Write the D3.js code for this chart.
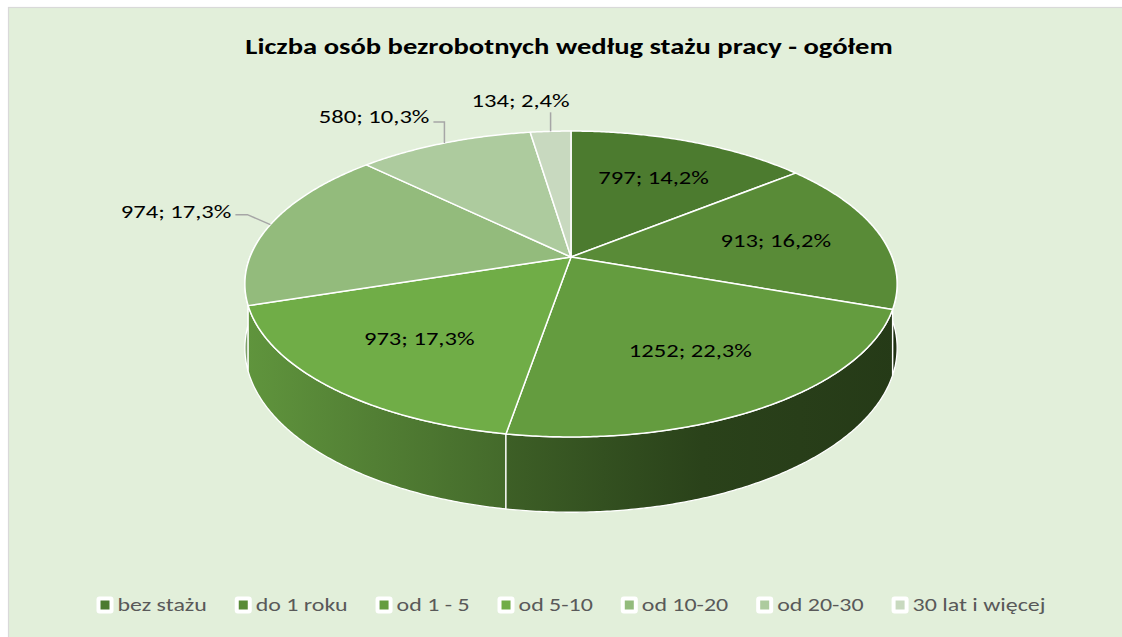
<!DOCTYPE html>
<html>
<head>
<meta charset="utf-8">
<script src="https://cdn.jsdelivr.net/npm/d3@7"></script>
<style>
  html, body { margin: 0; padding: 0; background: #ffffff; }
  svg { display: block; }
  text { font-family: Calibri, Carlito, Lato, "Open Sans", sans-serif; }
</style>
</head>
<body>
<svg id="chart" width="1122" height="637"></svg>
<script>
// ---------------- data ----------------
const title = "Liczba osób bezrobotnych według stażu pracy - ogółem";
const categories = ["bez stażu", "do 1 roku", "od 1 - 5", "od 5-10", "od 10-20", "od 20-30", "30 lat i więcej"];
const values = [797, 913, 1252, 973, 974, 580, 134];
const colors = ["#4c7b2f", "#598b37", "#649c3f", "#70ad47", "#93bb7c", "#adcb9e", "#c8d9bf"];

// ---------------- layout ----------------
const W = 1122, H = 637;
const cx = 571, cy = 257;          // apex of the pie (projected centre)
const A = 321, B = 148.2, K = 0.1765; // perspective projection of the disc
const T = 62;                        // thickness
const SX = 1.33;                     // horizontal stretch of the original picture's text
const svg = d3.select("#chart");

function stretchedText(parent, x, y, str, anchor) {
  const g = parent.append("g").attr("transform", `translate(${x},${y}) scale(${SX},1)`);
  return g.append("text").attr("x", 0).attr("y", 0).attr("text-anchor", anchor || "start").text(str);
}

svg.append("rect").attr("x", 8.5).attr("y", 7.5).attr("width", W + 10).attr("height", H + 10)
  .attr("fill", "#e2efda").attr("stroke", "#d9d9d9").attr("stroke-width", 1.2);

const tg = svg.append("g").attr("font-size", 21.5).attr("font-weight", "bold").attr("fill", "#000");
stretchedText(tg, 569, 54, title, "middle");

const total = d3.sum(values);
const pie = d3.pie().sort(null).value(d => d)(values);
const pct = d3.formatLocale({decimal: ",", thousands: " ", grouping: [3], currency: ["", ""]}).format(".1%");

function proj(theta, r) {
  const u = r * Math.sin(theta), v = -r * Math.cos(theta);
  const d = 1 - K * v;
  return [cx + A * u / d, cy + B * v / d, d];
}
function bottom(theta) {
  const p = proj(theta, 1);
  return [p[0], p[1] + T / p[2]];
}
const step = Math.PI / 360;
function arcPts(a, b, f) {
  const n = Math.max(2, Math.ceil((b - a) / step));
  return d3.range(n + 1).map(i => f(a + (b - a) * i / n));
}

// gradients for side faces
const defs = svg.append("defs");
const xShade = d3.scaleLinear().domain([0, 0.4, 0.7, 1]).range([0.86, 0.61, 0.42, 0.37]);
pie.forEach((p, i) => {
  const g = defs.append("linearGradient").attr("id", "side" + i)
    .attr("gradientUnits", "userSpaceOnUse").attr("x1", cx - A * 1.02).attr("x2", cx + A * 1.02)
    .attr("y1", 0).attr("y2", 0);
  const base = d3.rgb(colors[i]);
  [0, 0.2, 0.4, 0.55, 0.7, 0.85, 1].forEach(t => {
    const m = xShade(t);
    g.append("stop").attr("offset", t)
      .attr("stop-color", d3.rgb(base.r * m, base.g * m, base.b * m).formatHex());
  });
});

// side faces
const sideLo = 80 * Math.PI / 180, sideHi = 280 * Math.PI / 180;
const sides = pie.map((p, i) => ({i, a: Math.max(p.startAngle, sideLo), b: Math.min(p.endAngle, sideHi)}))
  .filter(s => s.b > s.a)
  .sort((s, t) => Math.abs((t.a + t.b) / 2 - Math.PI) - Math.abs((s.a + s.b) / 2 - Math.PI));
const line = d3.line();
svg.append("g").selectAll("path").data(sides).join("path")
  .attr("d", s => line(arcPts(s.a, s.b, t => proj(t, 1)).concat(arcPts(s.a, s.b, bottom).reverse())) + "Z")
  .attr("fill", s => `url(#side${s.i})`)
  .attr("stroke", "#ffffff").attr("stroke-width", 1.3).attr("stroke-linejoin", "round");

// top faces
svg.append("g").selectAll("path").data(pie).join("path")
  .attr("d", p => line([proj(0, 0)].concat(arcPts(p.startAngle, p.endAngle, t => proj(t, 1)))) + "Z")
  .attr("fill", (p, i) => colors[i])
  .attr("stroke", "#ffffff").attr("stroke-width", 1.5).attr("stroke-linejoin", "round");

// labels
const labelText = (p) => `${p.value}; ${pct(p.value / total)}`;
const inside = [0, 1, 2, 3];
const gl = svg.append("g").attr("font-size", 18.5).attr("fill", "#000");
inside.forEach(i => {
  const p = pie[i];
  const m = (p.startAngle + p.endAngle) / 2;
  const q = proj(m, 0.66);
  stretchedText(gl, q[0], q[1], labelText(p), "middle").attr("dy", "0.35em");
});

// outside labels with leader lines (offsets relative to the rim point)
const outside = [
  {i: 4, dx: -39, dy: -13, anchor: "end", elbow: [-23, -10], start: [-35, -10]},
  {i: 5, dx: -15, dy: -27, anchor: "end", elbow: [0, -21], start: [-11, -21]},
  {i: 6, dx: -30, dy: -31, anchor: "middle", elbow: null, start: [0, -19]}
];
outside.forEach(o => {
  const p = pie[o.i];
  const m = (p.startAngle + p.endAngle) / 2;
  const r = proj(m, 1);
  const pts = [[r[0] + o.start[0], r[1] + o.start[1]]];
  if (o.elbow) pts.push([r[0] + o.elbow[0], r[1] + o.elbow[1]]);
  pts.push([r[0], r[1]]);
  svg.append("path").attr("d", line(pts)).attr("fill", "none")
    .attr("stroke", "#a6a6a6").attr("stroke-width", 1.5);
  stretchedText(gl, r[0] + o.dx, r[1] + o.dy, labelText(p), o.anchor).attr("dy", "0.35em");
});

// legend
const lg = svg.append("g").attr("font-size", 18).attr("fill", "#595959");
const items = categories.map((c, i) => {
  const g = lg.append("g");
  g.append("rect").attr("x", 0).attr("y", -8.5).attr("width", 17).attr("height", 17).attr("rx", 3)
    .attr("fill", "#ffffff");
  g.append("rect").attr("x", 4).attr("y", -4.5).attr("width", 9).attr("height", 9).attr("fill", colors[i]);
  const t = stretchedText(g, 21, 0, c, "start").attr("dy", "0.35em");
  return {g, w: 21 + SX * t.node().getComputedTextLength()};
});
const gap = 28;
const totalW = d3.sum(items, d => d.w) + gap * (items.length - 1);
let x0 = 571 - totalW / 2;
items.forEach(it => { it.g.attr("transform", `translate(${x0},605)`); x0 += it.w + gap; });
</script>
</body>
</html>
